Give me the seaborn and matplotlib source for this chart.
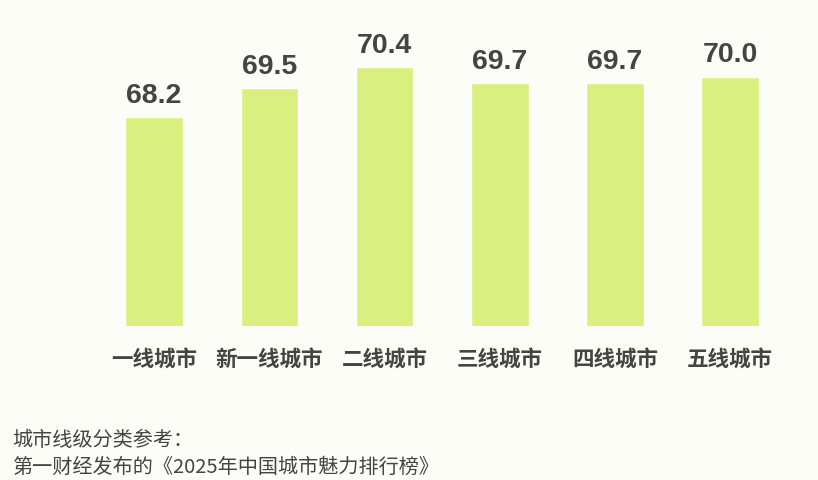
import matplotlib
matplotlib.use("Agg")
import matplotlib.pyplot as plt
import seaborn as sns
import pandas as pd

categories = ["一线城市", "新一线城市", "二线城市", "三线城市", "四线城市", "五线城市"]
values = [68.2, 69.5, 70.4, 69.7, 69.7, 70.0]
note_lines = ["城市线级分类参考：", "第一财经发布的《2025年中国城市魅力排行榜》"]

sns.set_theme(style="white")
plt.rcParams['font.family'] = ['Noto Sans CJK SC', 'DejaVu Sans']

bg = "#fdfdf8"
bar_color = "#d9f07f"
text_color = "#444444"

df = pd.DataFrame({"cat": categories, "val": values})

fig = plt.figure(figsize=(8.18, 4.8), dpi=100, facecolor=bg)
ax = fig.add_axes([0.118, 0.321, 0.845, 0.614])
ax.set_facecolor(bg)
sns.barplot(data=df, x="cat", y="val", color=bar_color, width=0.5, ax=ax, saturation=1)
ax.set_xlim(-0.5, 5.5)
ax.set_ylim(59, 72)
for i, v in enumerate(values):
    ax.annotate(f"{v:.1f}", (i, v), xytext=(0, 6), textcoords="offset points",
                ha="center", va="bottom", fontsize=20.5, fontweight="bold",
                color=text_color, family=['Liberation Sans', 'DejaVu Sans'])
ax.set_xlabel("")
ax.set_ylabel("")
ax.set_yticks([])
ax.tick_params(axis="x", length=0, pad=17)
for lab in ax.get_xticklabels():
    lab.set_fontsize(15.5)
    lab.set_fontweight("bold")
    lab.set_color(text_color)
for s in ax.spines.values():
    s.set_visible(False)

fig.text(12/818, 1 - 441/480, note_lines[0], fontsize=14.5, color=text_color, va="center", ha="left")
fig.text(12/818, 1 - 467/480, note_lines[1], fontsize=14.5, color=text_color, va="center", ha="left")

fig.savefig("out.png", dpi=100, facecolor=bg)
